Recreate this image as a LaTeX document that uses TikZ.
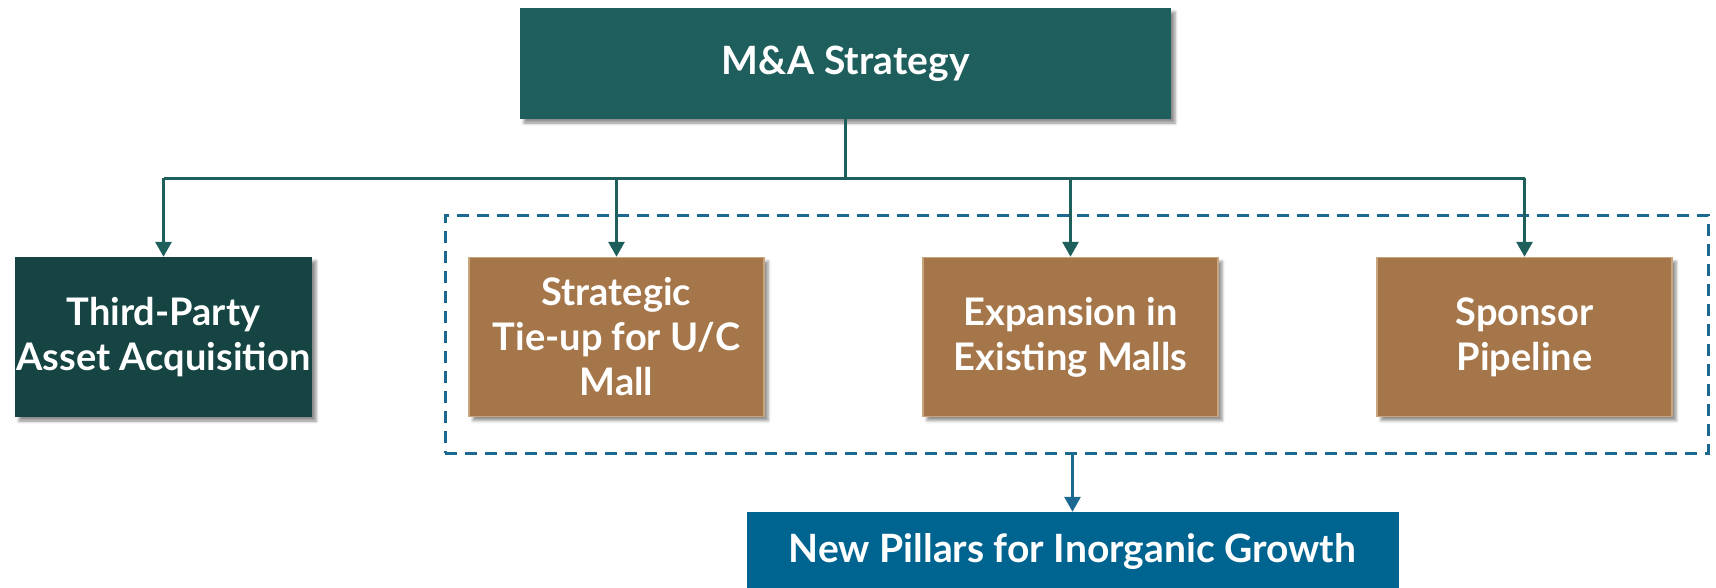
\documentclass[tikz,border=0pt]{standalone}
\usepackage{fontspec}
\setmainfont{Lato}
\usetikzlibrary{arrows.meta,shadows.blur}
\definecolor{topteal}{HTML}{1E5E5C}
\definecolor{darkteal}{HTML}{164443}
\definecolor{brownbox}{HTML}{A57649}
\definecolor{brownedge}{HTML}{C9A57E}
\definecolor{bluebox}{HTML}{006490}
\definecolor{dashblue}{HTML}{1B6890}
\definecolor{linecol}{HTML}{1E5E5B}
\tikzset{
  boxbase/.style={rectangle, align=center, text=white, font=\bfseries\fontsize{38}{45}\selectfont,
    inner sep=0pt, blur shadow={shadow xshift=4pt, shadow yshift=-4pt, shadow blur radius=3pt, shadow opacity=45}},
  tealbox/.style={boxbase, fill=topteal, minimum width=651pt, minimum height=111pt},
  darkbox/.style={boxbase, fill=darkteal, minimum width=297pt, minimum height=160pt},
  brownnode/.style={boxbase, fill=brownbox, draw=brownedge, line width=1.5pt, minimum width=295pt, minimum height=159pt},
  bluenode/.style={rectangle, align=center, text=white, font=\bfseries\fontsize{39}{45}\selectfont,
    inner sep=0pt, fill=bluebox, minimum width=652pt, minimum height=80pt},
  dashbox/.style={rectangle, draw=dashblue, line width=3pt, dash pattern=on 12pt off 8pt, minimum width=1263pt, minimum height=238pt, inner sep=0pt},
  conn/.style={draw=linecol, line width=3pt},
  arr/.style={conn, -{Triangle[width=16pt,length=15pt]}},
  barr/.style={draw=dashblue, line width=3pt, -{Triangle[width=16pt,length=15pt]}}
}
\begin{document}
\begin{tikzpicture}[x=1pt,y=-1pt]
\useasboundingbox (0,0) rectangle (1716,587);
\node[dashbox] (grp) at (1076.5,334) {};
\node[tealbox] (top) at (845.5,63.5) {\fontsize{39}{45}\selectfont M\&A Strategy};
\node[darkbox] (tp) at (163.5,337) {Third-Party\\Asset Acquisition};
\node[brownnode] (st) at (616.5,337) {Strategic\\Tie-up for U/C\\Mall};
\node[brownnode] (ex) at (1070.5,337) {Expansion in\\Existing Malls};
\node[brownnode] (sp) at (1524.5,337) {Sponsor\\Pipeline};
\node[bluenode] (bot) at (1072.5,552) {New Pillars for Inorganic Growth};
\coordinate (j) at (845.5,178);
\draw[conn] (top.south) -- (j);
\draw[conn] (tp.north |- j) -- (sp.north |- j);
\draw[arr] (tp.north |- j) -- (tp.north);
\draw[arr] (st.north |- j) -- (st.north);
\draw[arr] (ex.north |- j) -- (ex.north);
\draw[arr] (sp.north |- j) -- (sp.north);
\draw[barr] (bot.north |- grp.south) -- (bot.north);
\end{tikzpicture}
\end{document}
